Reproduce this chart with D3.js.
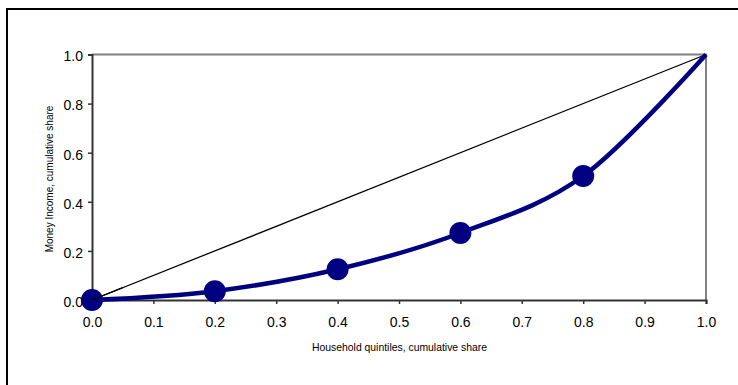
<!DOCTYPE html>
<html><head><meta charset="utf-8">
<script src="https://cdn.jsdelivr.net/npm/d3@7"></script>
<style>body{margin:0;background:#fff}svg{display:block}</style>
</head><body>
<svg id="c" width="738" height="385"></svg>
<script>
const quintiles = [0.0, 0.2, 0.4, 0.6, 0.8, 1.0];
const incomeShare = [0.0, 0.036, 0.125, 0.273, 0.505, 1.0];
const equality = [0.0, 1.0];
const xTicks = [0,0.1,0.2,0.3,0.4,0.5,0.6,0.7,0.8,0.9,1.0];
const yTicks = [0,0.2,0.4,0.6,0.8,1.0];

const svg = d3.select("#c");
svg.append("rect").attr("x",7).attr("y",9).attr("width",740).attr("height",400)
  .attr("fill","#fff").attr("stroke","#000").attr("stroke-width",2);

const x = d3.scaleLinear().domain([0,1]).range([92,706]);
const y = d3.scaleLinear().domain([0,1]).range([300,54.5]);

// frame top/right
svg.append("path").attr("d",`M${x(0)},${y(1)}H${x(1)}V${y(0)}`).attr("fill","none")
  .attr("stroke","#808080").attr("stroke-width",2);

const font = "Liberation Sans, Arial, sans-serif";
const gx = svg.append("g").attr("transform",`translate(0,${y(0)})`)
  .call(d3.axisBottom(x).tickValues(xTicks).tickFormat(d3.format(".1f")).tickSize(4).tickPadding(13));
const gy = svg.append("g").attr("transform",`translate(${x(0)},0)`)
  .call(d3.axisLeft(y).tickValues(yTicks).tickFormat(d3.format(".1f")).tickSize(4).tickPadding(5));
[gx,gy].forEach(g=>{
  g.select(".domain").attr("stroke","#333").attr("stroke-width",2);
  g.selectAll(".tick line").attr("stroke","#333").attr("stroke-width",1.5);
  g.selectAll("text").attr("font-family",font).attr("font-size",14).attr("fill","#000");
});
gy.selectAll("text").attr("dy","0.45em");

// equality line
svg.append("line").attr("x1",x(equality[0])).attr("y1",y(equality[0]))
  .attr("x2",x(equality[1])).attr("y2",y(equality[1])).attr("stroke","#000").attr("stroke-width",1.3);

const pts = quintiles.map((q,i)=>[q,incomeShare[i]]);
const line = d3.line().x(d=>x(d[0])).y(d=>y(d[1])).curve(d3.curveCatmullRom.alpha(0));
svg.append("path").attr("d",line(pts)).attr("fill","none").attr("stroke","#000080")
  .attr("stroke-width",4.5).attr("stroke-linejoin","round");

svg.selectAll("circle.m").data(pts.slice(0,5)).enter().append("circle")
  .attr("cx",d=>x(d[0])).attr("cy",d=>y(d[1])).attr("r",11).attr("fill","#000080");

// redraw equality line start over marker
svg.append("line").attr("x1",x(0)).attr("y1",y(0))
  .attr("x2",x(0.05)).attr("y2",y(0.05)).attr("stroke","#000").attr("stroke-width",1.3);

svg.append("text").attr("x",399.5).attr("y",351).attr("text-anchor","middle")
  .attr("font-family",font).attr("font-size",10.4).text("Household quintiles, cumulative share");
svg.append("text").attr("transform","translate(53,179) rotate(-90)").attr("text-anchor","middle")
  .attr("font-family",font).attr("font-size",10).text("Money Income, cumulative share");
</script>
</body></html>
